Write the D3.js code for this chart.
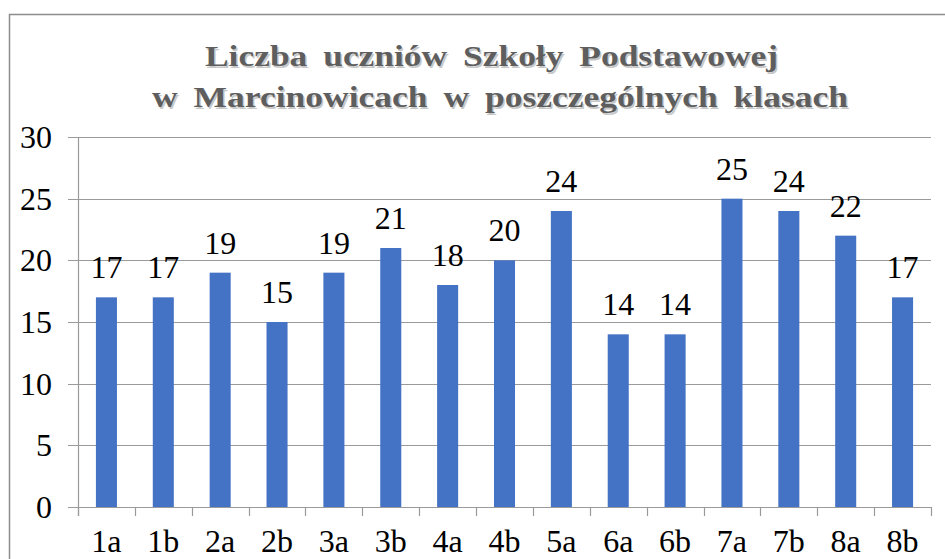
<!DOCTYPE html>
<html>
<head>
<meta charset="utf-8">
<script src="https://cdn.jsdelivr.net/npm/d3@7"></script>
</head>
<body style="margin:0; background:#fff">
<svg id="chart" width="945" height="559" style="display:block"></svg>
<script>
// class names and number of pupils
var classes = ["1a", "1b", "2a", "2b", "3a", "3b", "4a", "4b", "5a", "6a", "6b", "7a", "7b", "8a", "8b"];
var pupils = [17, 17, 19, 15, 19, 21, 18, 20, 24, 14, 14, 25, 24, 22, 17];
var yTicks = [0, 5, 10, 15, 20, 25, 30];
var titleLines = ["Liczba uczniów Szkoły Podstawowej", "w Marcinowicach w poszczególnych klasach"];

var FONT = "'Liberation Serif', 'Times New Roman', serif";
var svg = d3.select("#chart");
var plotL = 78, plotR = 931, plotT = 137, plotB = 507;

// outer frame
svg.append("rect")
    .attr("x", 9.5).attr("y", 14.5)
    .attr("width", 960).attr("height", 600)
    .attr("fill", "#fff").attr("stroke", "#8c8c8c").attr("stroke-width", 1.5);

// title (gray, bold, slight shadow), stretched to the width of the original lines
var titleSpan = [[205, 778], [152, 848]];
var titleBase = [66, 107];
titleLines.forEach(function (t, i) {
    [["#c8c8c8", 1.5], ["#5e5e5e", 0]].forEach(function (s) {
        svg.append("text")
            .attr("x", titleSpan[i][0] + s[1]).attr("y", titleBase[i] + s[1])
            .attr("font-size", 30).attr("font-weight", "bold")
            .attr("word-spacing", 6)
            .attr("textLength", titleSpan[i][1] - titleSpan[i][0])
            .attr("lengthAdjust", "spacingAndGlyphs")
            .style("font-family", FONT)
            .attr("fill", s[0])
            .text(t);
    });
});

var x = d3.scaleBand().domain(classes).range([plotL, plotR]).paddingInner(0.63).paddingOuter(0.315);
var xTicks = d3.scaleBand().domain(classes).range([plotL, plotR]);
var y = d3.scaleLinear().domain([0, 30]).range([plotB, plotT]);

// gridlines
svg.append("g").selectAll("line").data(yTicks).join("line")
    .attr("x1", plotL - 10).attr("x2", plotR)
    .attr("y1", function (d) { return Math.round(y(d)) + 0.5; })
    .attr("y2", function (d) { return Math.round(y(d)) + 0.5; })
    .attr("stroke", "#9a9a9a").attr("stroke-width", 1.2);

// y axis line
svg.append("line")
    .attr("x1", plotL + 0.5).attr("x2", plotL + 0.5)
    .attr("y1", plotT).attr("y2", plotB + 9)
    .attr("stroke", "#9a9a9a").attr("stroke-width", 1.2);

// x category ticks
svg.append("g").selectAll("line").data(classes.concat(["end"])).join("line")
    .attr("x1", function (d, i) { return Math.round(i < classes.length ? xTicks(d) : plotR) + 0.5; })
    .attr("x2", function (d, i) { return Math.round(i < classes.length ? xTicks(d) : plotR) + 0.5; })
    .attr("y1", plotB).attr("y2", plotB + 9)
    .attr("stroke", "#9a9a9a").attr("stroke-width", 1.2);

// y tick labels
svg.append("g").selectAll("text").data(yTicks).join("text")
    .attr("x", 52).attr("y", function (d) { return y(d) + 11; })
    .attr("text-anchor", "end")
    .attr("font-size", 32)
    .style("font-family", FONT)
    .attr("fill", "#000")
    .text(function (d) { return d; });

// x labels
svg.append("g").selectAll("text").data(classes).join("text")
    .attr("x", function (d) { return xTicks(d) + xTicks.bandwidth() / 2; })
    .attr("y", 552)
    .attr("text-anchor", "middle")
    .attr("font-size", 32)
    .style("font-family", FONT)
    .attr("fill", "#000")
    .text(function (d) { return d; });

// bars
svg.append("g").selectAll("rect").data(classes).join("rect")
    .attr("x", function (d) { return x(d); })
    .attr("y", function (d, i) { return y(pupils[i]); })
    .attr("width", x.bandwidth())
    .attr("height", function (d, i) { return plotB - y(pupils[i]); })
    .attr("fill", "#4472c4");

// value labels
svg.append("g").selectAll("text").data(classes).join("text")
    .attr("x", function (d) { return x(d) + x.bandwidth() / 2; })
    .attr("y", function (d, i) { return y(pupils[i]) - 19; })
    .attr("text-anchor", "middle")
    .attr("font-size", 32)
    .style("font-family", FONT)
    .attr("fill", "#000")
    .text(function (d, i) { return pupils[i]; });
</script>
</body>
</html>
